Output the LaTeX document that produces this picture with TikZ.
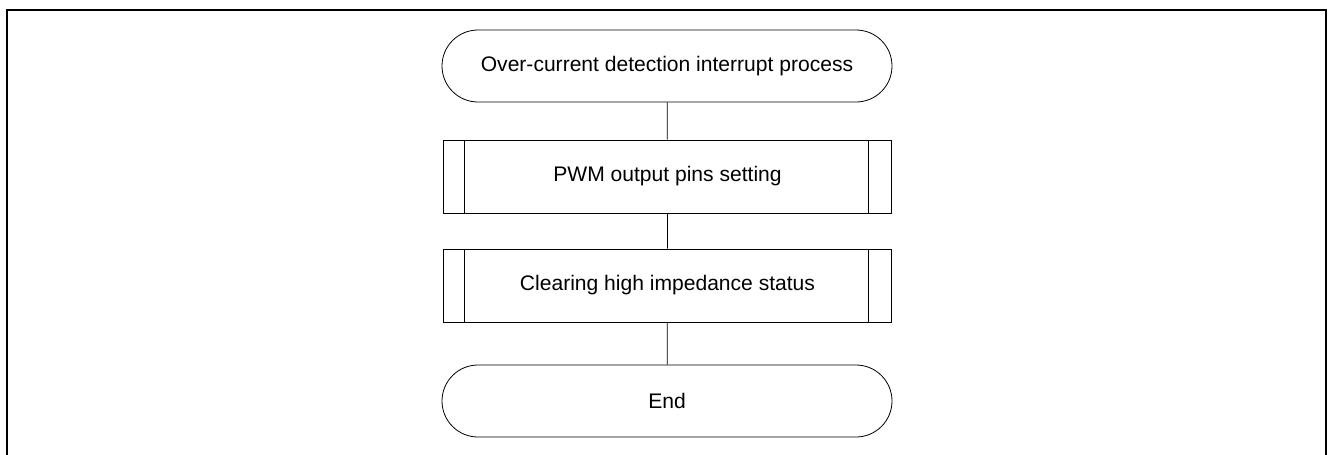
\documentclass[tikz,border=0pt]{standalone}
\usepackage{fontspec}
\setmainfont{Liberation Sans}
\tikzset{
  term/.style={draw, rounded corners=27pt, minimum width=337.5pt, minimum height=54pt, inner sep=0pt},
  subproc/.style={draw, minimum width=336pt, minimum height=54.75pt, inner sep=0pt,
    path picture={
      \draw ([xshift=16pt]path picture bounding box.north west) -- ([xshift=16pt]path picture bounding box.south west);
      \draw ([xshift=-17pt]path picture bounding box.north east) -- ([xshift=-17pt]path picture bounding box.south east);
    }}
}
\begin{document}
\begin{tikzpicture}[x=0.75pt, y=-0.75pt, line width=0.6pt, font=\fontsize{15.8}{18}\selectfont]
        \useasboundingbox (0,0) rectangle (1328,454);
        % Outer frame
        \draw[line width=1.5pt] (7,460) -- (7,10) -- (1326,10) -- (1326,460);

        % Flow nodes
        \node[term] (ST) at (667,66) {Over-current detection interrupt process};
        \node[subproc] (P1) at (667.5,176.5) {PWM output pins setting};
        \node[subproc] (P2) at (667.5,285.5) {Clearing high impedance status};
        \node[term] (EN) at (667,401) {End};

        % Connectors
        \draw (ST) -- (P1) -- (P2) -- (EN);
    \end{tikzpicture}
\end{document}
